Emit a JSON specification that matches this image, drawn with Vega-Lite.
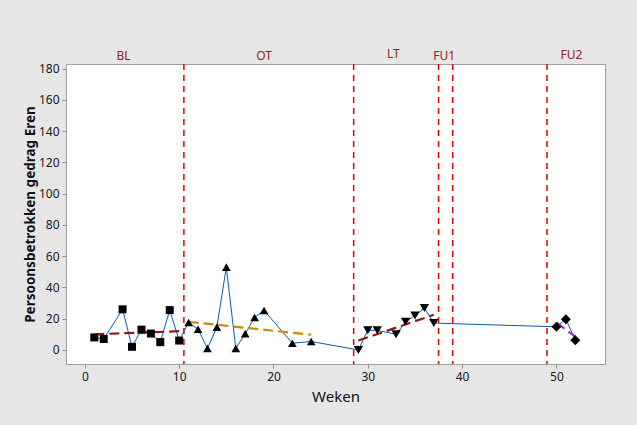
{
  "$schema": "https://vega.github.io/schema/vega-lite/v6.json",
  "width": 539,
  "height": 300,
  "autosize": {"type": "none"},
  "padding": {"left": 66, "top": 64, "right": 32, "bottom": 61},
  "background": "#E6E6E6",
  "config": {
    "view": {"fill": "white", "stroke": "#A0A0A0", "strokeWidth": 1},
    "font": "Noto Sans"
  },
  "datasets": {
    "points": [
      {"week": 1, "value": 8, "phase": "BL"},
      {"week": 2, "value": 7, "phase": "BL"},
      {"week": 4, "value": 26, "phase": "BL"},
      {"week": 5, "value": 2, "phase": "BL"},
      {"week": 6, "value": 13, "phase": "BL"},
      {"week": 7, "value": 10.5, "phase": "BL"},
      {"week": 8, "value": 5, "phase": "BL"},
      {"week": 9, "value": 25.5, "phase": "BL"},
      {"week": 10, "value": 6, "phase": "BL"},
      {"week": 11, "value": 17.6, "phase": "OT"},
      {"week": 12, "value": 13.3, "phase": "OT"},
      {"week": 13, "value": 1, "phase": "OT"},
      {"week": 14, "value": 14.6, "phase": "OT"},
      {"week": 15, "value": 53, "phase": "OT"},
      {"week": 16, "value": 1, "phase": "OT"},
      {"week": 17, "value": 10.3, "phase": "OT"},
      {"week": 18, "value": 20.8, "phase": "OT"},
      {"week": 19, "value": 25.3, "phase": "OT"},
      {"week": 22, "value": 4.3, "phase": "OT"},
      {"week": 24, "value": 5.4, "phase": "OT"},
      {"week": 29, "value": 0, "phase": "LT"},
      {"week": 30, "value": 12.6, "phase": "LT"},
      {"week": 31, "value": 12.6, "phase": "LT"},
      {"week": 33, "value": 10, "phase": "LT"},
      {"week": 34, "value": 18, "phase": "LT"},
      {"week": 35, "value": 22, "phase": "LT"},
      {"week": 36, "value": 26.8, "phase": "LT"},
      {"week": 37, "value": 17.2, "phase": "LT"},
      {"week": 50, "value": 14.8, "phase": "FU2"},
      {"week": 51, "value": 19.7, "phase": "FU2"},
      {"week": 52, "value": 6.2, "phase": "FU2"}
    ],
    "trends": [
      {"week": 1, "value": 10, "phase": "BL"},
      {"week": 10, "value": 12, "phase": "BL"},
      {"week": 11, "value": 18, "phase": "OT"},
      {"week": 24, "value": 9.7, "phase": "OT"},
      {"week": 29, "value": 6, "phase": "LT"},
      {"week": 37, "value": 22.5, "phase": "LT"},
      {"week": 50, "value": 17.5, "phase": "FU2"},
      {"week": 52, "value": 8.5, "phase": "FU2"}
    ],
    "phases": [
      {"week": 10.5},
      {"week": 28.5},
      {"week": 37.5},
      {"week": 39},
      {"week": 49}
    ],
    "labels": [
      {"week": 4.1, "value": 188.3, "label": "BL"},
      {"week": 19.0, "value": 188.3, "label": "OT"},
      {"week": 32.7, "value": 189.4, "label": "LT"},
      {"week": 38.1, "value": 188.3, "label": "FU1"},
      {"week": 51.6, "value": 188.8, "label": "FU2"}
    ]
  },
  "encoding": {
    "x": {
      "field": "week", "type": "quantitative",
      "scale": {"domain": [-2, 55.15], "nice": false, "zero": false},
      "axis": {
        "title": "Weken", "values": [0, 10, 20, 30, 40, 50],
        "domain": false, "grid": false, "tickColor": "#909090", "tickSize": 4,
        "labelFontSize": 12, "labelColor": "#1a1a1a", "labelPadding": 3,
        "titleFontSize": 15, "titleFontWeight": "normal", "titleColor": "#111111", "titlePadding": 7
      }
    },
    "y": {
      "field": "value", "type": "quantitative",
      "scale": {"domain": [-9, 183], "nice": false, "zero": false},
      "axis": {
        "title": "Persoonsbetrokken gedrag Eren", "values": [0, 20, 40, 60, 80, 100, 120, 140, 160, 180],
        "domain": false, "grid": false, "tickColor": "#909090", "tickSize": 4,
        "labelFontSize": 12, "labelColor": "#1a1a1a", "labelPadding": 3,
        "titleFontSize": 13.5, "titleFontWeight": "bold", "titleColor": "#111111", "titlePadding": 1
      }
    }
  },
  "layer": [
    {
      "data": {"name": "phases"},
      "mark": {"type": "rule", "color": "#E00000", "strokeWidth": 1.5, "strokeDash": [6, 5]},
      "encoding": {"x": {"field": "week", "type": "quantitative"}, "y": null}
    },
    {
      "data": {"name": "points"},
      "mark": {"type": "line", "color": "#0B5CAD", "strokeWidth": 1},
      "encoding": {"order": {"field": "week"}}
    },
    {
      "data": {"name": "trends"},
      "mark": {"type": "line", "strokeWidth": 2.2, "strokeDash": [10, 5]},
      "encoding": {
        "detail": {"field": "phase"},
        "color": {
          "field": "phase", "type": "nominal", "legend": null,
          "scale": {"domain": ["BL", "OT", "LT", "FU2"], "range": ["#8B1A1A", "#D08A00", "#8B1A1A", "#9B30D0"]}
        }
      }
    },
    {
      "data": {"name": "points"},
      "mark": {"type": "point", "filled": true, "opacity": 1, "color": "black"},
      "encoding": {
        "shape": {
          "field": "phase", "type": "nominal", "legend": null,
          "scale": {"domain": ["BL", "OT", "LT", "FU2"], "range": ["square", "triangle-up", "triangle-down", "diamond"]}
        },
        "size": {
          "field": "phase", "type": "nominal", "legend": null,
          "scale": {"domain": ["BL", "OT", "LT", "FU2"], "range": [64, 100, 100, 85]}
        }
      }
    },
    {
      "data": {"name": "labels"},
      "mark": {"type": "text", "color": "#A01822", "fontSize": 12, "baseline": "middle", "align": "center", "clip": false},
      "encoding": {"text": {"field": "label"}}
    }
  ]
}
